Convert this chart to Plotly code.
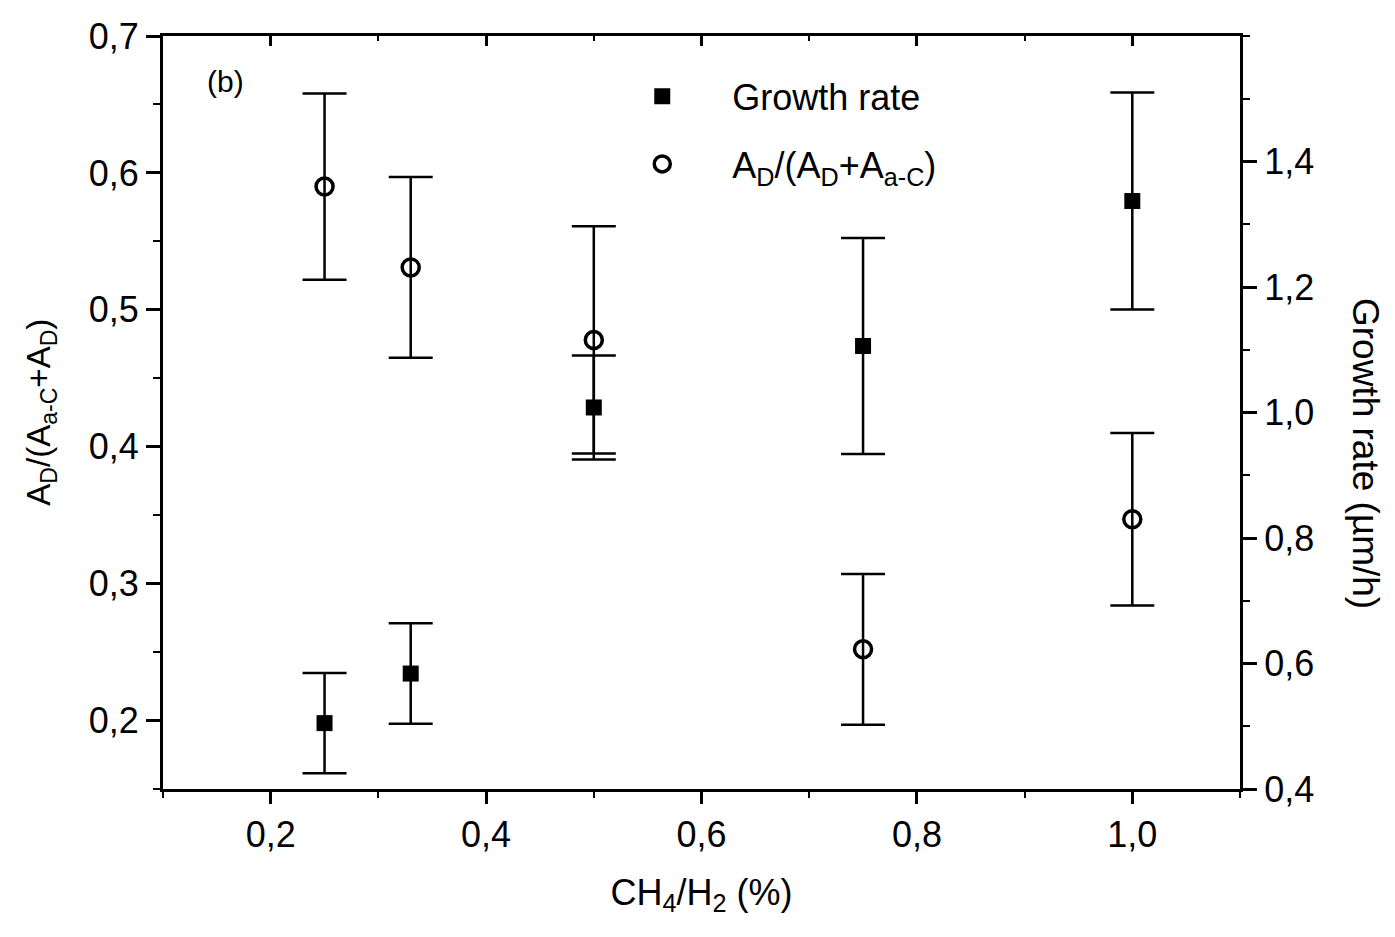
import plotly.graph_objects as go

# ---- data ----
ch4_h2 = [0.25, 0.33, 0.5, 0.75, 1.0]
ratio_ad = [0.590, 0.531, 0.478, 0.252, 0.347]
ratio_err = [0.068, 0.066, 0.083, 0.055, 0.063]
growth_rate = [0.505, 0.584, 1.008, 1.106, 1.337]
growth_err = [0.080, 0.080, 0.083, 0.172, 0.173]

x_ticks = [0.2, 0.4, 0.6, 0.8, 1.0]
left_ticks = [0.2, 0.3, 0.4, 0.5, 0.6, 0.7]
right_ticks = [0.4, 0.6, 0.8, 1.0, 1.2, 1.4]

FONT = "Liberation Sans, Arial, sans-serif"
TICKF = dict(family=FONT, size=36, color="black")
PAD = "\u00a0" * 5

fig = go.Figure()

fig.add_trace(go.Scatter(
    x=ch4_h2, y=ratio_ad, mode="markers",
    name=PAD + "A<sub>D</sub>/(A<sub>D</sub>+A<sub>a-C</sub>)",
    marker=dict(symbol="circle-open", size=17, color="black", line=dict(width=3.5, color="black")),
    error_y=dict(type="data", array=ratio_err, visible=True, color="black", thickness=2.5, width=22),
    legend="legend2",
    xaxis="x", yaxis="y",
))

fig.add_trace(go.Scatter(
    x=ch4_h2, y=growth_rate, mode="markers",
    name=PAD + "Growth rate",
    marker=dict(symbol="square", size=16, color="black"),
    error_y=dict(type="data", array=growth_err, visible=True, color="black", thickness=2.5, width=22),
    legend="legend",
    xaxis="x2", yaxis="y2",
))

axis_common = dict(showgrid=False, zeroline=False, linecolor="black", linewidth=3,
                   tickcolor="black", tickwidth=2.5, tickfont=TICKF, tickformat=".1f")

fig.update_layout(
    width=1395, height=937,
    paper_bgcolor="white", plot_bgcolor="white",
    separators=",.",
    margin=dict(l=163, r=155, t=36, b=148),
    font=dict(family=FONT, color="black"),
    xaxis=dict(range=[0.1, 1.1], tickvals=x_ticks, ticks="outside", ticklen=12,
               minor=dict(dtick=0.1, tick0=0, ticks="outside", ticklen=6, tickcolor="black", tickwidth=2),
               title=dict(text="CH<sub>4</sub>/H<sub>2</sub> (%)", font=dict(family=FONT, size=36), standoff=26),
               **axis_common),
    xaxis2=dict(range=[0.1, 1.1], overlaying="x", side="top", tickvals=x_ticks, ticks="inside",
                ticklen=10, showticklabels=False,
                minor=dict(dtick=0.1, tick0=0, ticks="inside", ticklen=5, tickcolor="black", tickwidth=2),
                **axis_common),
    yaxis=dict(range=[0.15, 0.7], tickvals=left_ticks, ticks="outside", ticklen=14,
               minor=dict(dtick=0.05, tick0=0, ticks="outside", ticklen=7, tickcolor="black", tickwidth=2),
               **axis_common),
    yaxis2=dict(range=[0.4, 1.6], overlaying="y", side="right", tickvals=right_ticks,
                ticks="outside", ticklen=14, anchor="x",
                minor=dict(dtick=0.1, tick0=0, ticks="outside", ticklen=7, tickcolor="black", tickwidth=2),
                **axis_common),
    legend=dict(x=0.445, y=0.92, xanchor="left", yanchor="middle", bgcolor="rgba(0,0,0,0)",
                font=dict(family=FONT, size=36), itemwidth=30),
    legend2=dict(x=0.445, y=0.83, xanchor="left", yanchor="middle", bgcolor="rgba(0,0,0,0)",
                 font=dict(family=FONT, size=36), itemwidth=30),
    showlegend=True,
)

fig.add_annotation(text="A<sub>D</sub>/(A<sub>a-C</sub>+A<sub>D</sub>)", xref="paper", yref="paper",
                   x=-0.114, y=0.5, xanchor="center", yanchor="middle", textangle=-90, showarrow=False,
                   font=dict(family=FONT, size=33, color="black"))
fig.add_annotation(text="Growth rate (µm/h)", xref="paper", yref="paper",
                   x=1.116, y=0.445, xanchor="center", yanchor="middle", textangle=90, showarrow=False,
                   font=dict(family=FONT, size=37, color="black"))
fig.add_annotation(text="(b)", xref="paper", yref="paper", x=0.058, y=0.94,
                   xanchor="center", yanchor="middle", showarrow=False,
                   font=dict(family=FONT, size=30, color="black"))

fig.write_html("out.html")
